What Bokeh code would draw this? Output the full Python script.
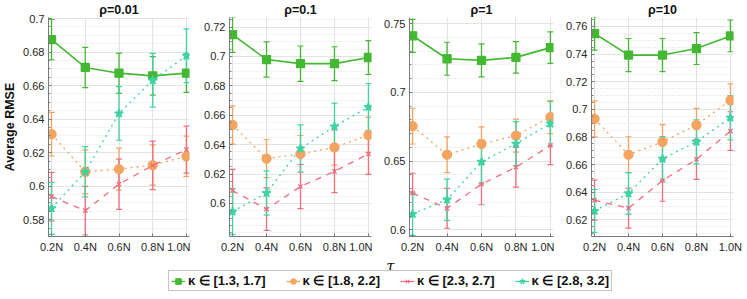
import math
from bokeh.plotting import figure
from bokeh.models import (ColumnDataSource, Whisker, TeeHead, FixedTicker, Range1d,
                          Legend, LegendItem, Label)
from bokeh.layouts import row, column
from bokeh.embed import file_html
from bokeh.resources import INLINE

# ---------------- data ----------------
tau = [0.2, 0.4, 0.6, 0.8, 1.0]
tau_labels = ["0.2N", "0.4N", "0.6N", "0.8N", "1.0N"]
series_names = ["κ ∈ [1.3, 1.7]", "κ ∈ [1.8, 2.2]", "κ ∈ [2.3, 2.7]", "κ ∈ [2.8, 3.2]"]
rho_titles = ["ρ=0.01", "ρ=0.1", "ρ=1", "ρ=10"]

# rho = 0.01
r1_k1 = [0.6874, 0.6708, 0.6674, 0.6658, 0.6674]
r1_k2 = [0.6310, 0.6086, 0.6102, 0.6126, 0.6178]
r1_k3 = [0.5938, 0.5854, 0.6012, 0.6124, 0.6218]
r1_k4 = [0.5868, 0.6086, 0.6434, 0.6632, 0.6778]
# rho = 0.1
r2_k1 = [0.7148, 0.6979, 0.6951, 0.6951, 0.6993]
r2_k2 = [0.6534, 0.6305, 0.6337, 0.6381, 0.6465]
r2_k3 = [0.6087, 0.5961, 0.6115, 0.6218, 0.6337]
r2_k4 = [0.5945, 0.6071, 0.6374, 0.6523, 0.6656]
# rho = 1
r3_k1 = [0.7412, 0.7245, 0.7233, 0.7255, 0.7326]
r3_k2 = [0.6755, 0.6547, 0.6625, 0.6686, 0.6821]
r3_k3 = [0.6267, 0.6157, 0.6333, 0.6456, 0.6615]
r3_k4 = [0.6115, 0.6220, 0.6495, 0.6627, 0.6774]
# rho = 10
r4_k1 = [0.7549, 0.7393, 0.7393, 0.7440, 0.7532]
r4_k2 = [0.6931, 0.6672, 0.6765, 0.6887, 0.7065]
r4_k3 = [0.6343, 0.6285, 0.6485, 0.6638, 0.6843]
r4_k4 = [0.6265, 0.6392, 0.6643, 0.6765, 0.6940]

# error bar half-widths (std)
err_k1 = [0.0120, 0.0120, 0.0120, 0.0115, 0.0115]
err_k2 = [0.0130, 0.0130, 0.0125, 0.0120, 0.0120]
err_k3 = [0.0145, 0.0145, 0.0150, 0.0145, 0.0140]
err_k4 = [0.0155, 0.0150, 0.0160, 0.0160, 0.0160]

# y-axis ticks per panel
yticks_1 = [0.58, 0.60, 0.62, 0.64, 0.66, 0.68, 0.70]
yticks_2 = [0.60, 0.62, 0.64, 0.66, 0.68, 0.70, 0.72]
yticks_3 = [0.60, 0.65, 0.70, 0.75]
yticks_4 = [0.62, 0.64, 0.66, 0.68, 0.70, 0.72, 0.74, 0.76]
ylims = [(0.5700, 0.7006), (0.5775, 0.7265), (0.5952, 0.7545), (0.6080, 0.7665)]

panels = [
    (rho_titles[0], [r1_k1, r1_k2, r1_k3, r1_k4], yticks_1, ylims[0]),
    (rho_titles[1], [r2_k1, r2_k2, r2_k3, r2_k4], yticks_2, ylims[1]),
    (rho_titles[2], [r3_k1, r3_k2, r3_k3, r3_k4], yticks_3, ylims[2]),
    (rho_titles[3], [r4_k1, r4_k2, r4_k3, r4_k4], yticks_4, ylims[3]),
]
errs = [err_k1, err_k2, err_k3, err_k4]

# ---------------- styles ----------------
colors = ["#45B833", "#F4A461", "#F26C7C", "#3DD3A2"]
dashes = ["solid", "dotted", "dashed", "dotted"]
markers = ["square", "circle", "x", "star"]
msizes = [8, 9, 6, 9]
lwidths = [1.6, 1.3, 1.3, 1.3]
FONT = "Liberation Sans"
AXC = "#7a7a7a"
TXT = "#262626"

# layout: (min_border_left, frame width, min_border_right)
borders = [(47, 142, 1), (39, 142, 1), (37, 144, 1), (37, 142, 14)]
FIG_H = 255


def fmt(v):
    s = ("%.2f" % v).rstrip("0")
    return s


figs = []
for i, (title, series, yt, yl) in enumerate(panels):
    bl, fw, br = borders[i]
    p = figure(width=bl + fw + br, height=FIG_H, output_backend="svg", toolbar_location=None,
               x_range=Range1d(0.182, 1.018), y_range=Range1d(*yl),
               min_border_left=bl, min_border_right=br, min_border_top=0, min_border_bottom=0,
               title=title)
    p.title.align = "center"
    p.title.text_font = FONT
    p.title.text_font_size = "12.5px"
    p.title.text_font_style = "bold"
    p.title.text_color = "#111111"
    p.title.standoff = 1
    p.outline_line_color = None
    p.background_fill_color = "white"
    p.border_fill_color = "white"

    step = yt[1] - yt[0]
    nminor = 5 if step > 0.03 else 4
    minor = []
    lo = yt[0] - step
    k = 0
    while lo + k * step / nminor <= yl[1] + 1e-9:
        v = lo + k * step / nminor
        if v >= yl[0] - 1e-9:
            minor.append(round(v, 5))
        k += 1

    p.xaxis.ticker = FixedTicker(ticks=tau)
    p.xaxis.major_label_overrides = {t: l for t, l in zip(tau, tau_labels)}
    p.yaxis.ticker = FixedTicker(ticks=yt, minor_ticks=minor)
    p.yaxis.major_label_overrides = {t: fmt(t) for t in yt}

    for ax in (p.xaxis[0], p.yaxis[0]):
        ax.axis_line_color = AXC
        ax.major_tick_line_color = AXC
        ax.minor_tick_line_color = AXC
        ax.major_tick_in = 3
        ax.major_tick_out = 0
        ax.minor_tick_in = 0
        ax.minor_tick_out = 0
        ax.major_label_text_font = FONT
        ax.major_label_text_font_size = "11px"
        ax.major_label_text_color = TXT
        ax.major_label_standoff = 4
    p.yaxis.minor_tick_in = 2

    p.xgrid.grid_line_color = "#e3e3e3"
    p.ygrid.grid_line_color = "#e3e3e3"
    p.ygrid.minor_grid_line_color = "#dcdcdc"
    p.ygrid.minor_grid_line_dash = "1 2"

    if i == 0:
        p.yaxis.axis_label = "Average RMSE"
        p.yaxis.axis_label_text_font = FONT
        p.yaxis.axis_label_text_font_size = "12.5px"
        p.yaxis.axis_label_text_font_style = "bold"
        p.yaxis.axis_label_text_color = "#111111"
        p.yaxis.axis_label_standoff = 3

    for j, ys in enumerate(series):
        e = errs[j]
        src = ColumnDataSource(dict(x=tau, y=ys,
                                    lo=[a - b for a, b in zip(ys, e)],
                                    hi=[a + b for a, b in zip(ys, e)]))
        w = Whisker(source=src, base="x", upper="hi", lower="lo", dimension="height",
                    line_color=colors[j], line_width=1.3,
                    upper_head=TeeHead(size=6, line_color=colors[j], line_width=1.2),
                    lower_head=TeeHead(size=6, line_color=colors[j], line_width=1.2))
        p.add_layout(w)
        p.line("x", "y", source=src, line_color=colors[j], line_width=lwidths[j],
               line_dash=dashes[j])
        p.scatter("x", "y", source=src, marker=markers[j], size=msizes[j],
                  fill_color=colors[j], line_color=colors[j], line_width=1.3)
    figs.append(p)

top = row(*figs, spacing=0)

# bottom strip: tau label + legend
total_w = sum(b[0] + b[1] + b[2] for b in borders)
BOT_H = 44
bot = figure(width=total_w, height=BOT_H, output_backend="svg", toolbar_location=None,
             x_range=Range1d(0, total_w), y_range=Range1d(0, BOT_H),
             x_axis_location=None, y_axis_location=None,
             min_border_left=0, min_border_right=0, min_border_top=0, min_border_bottom=0)
bot.outline_line_color = None
bot.grid.visible = False
bot.add_layout(Label(x=390, y=BOT_H - 10, text="τ", text_font="DejaVu Serif", text_font_size="15px",
                     text_font_style="italic", text_align="center", text_baseline="middle",
                     text_color="#111111"))

items = []
nan = float("nan")
for j in range(4):
    r1 = bot.line([nan, nan], [nan, nan], line_color=colors[j], line_width=1.3, line_dash="solid")
    r2 = bot.scatter([nan], [nan], marker="dash", angle=math.pi / 2, size=13,
                     line_color=colors[j], line_width=1.3)
    r3 = bot.scatter([nan], [nan], marker=markers[j], size=5, fill_color=colors[j],
                     line_color=colors[j])
    items.append(LegendItem(label=series_names[j], renderers=[r1, r2, r3]))

leg = Legend(items=items, orientation="horizontal", location=(168, 8),
             label_text_font=FONT, label_text_font_size="13px", label_text_font_style="bold",
             label_text_color="#111111", glyph_width=14, glyph_height=14, label_height=14,
             label_standoff=3, spacing=20, padding=2, margin=0,
             border_line_color="#8a8a8a", border_line_width=1, background_fill_alpha=1)
bot.add_layout(leg)

layout = column(top, bot, spacing=0)
open("out.html", "w").write(file_html(layout, INLINE))
